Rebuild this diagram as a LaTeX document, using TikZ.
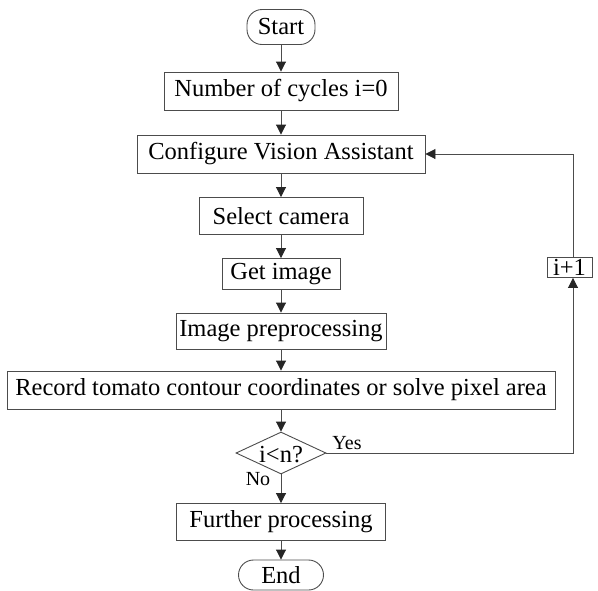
\documentclass[tikz,border=0pt]{standalone}
\usepackage{fontspec}
\setmainfont{Liberation Serif}
\usetikzlibrary{arrows.meta,shapes.geometric}
\begin{document}
\begin{tikzpicture}[x=1pt,y=-1pt,
  line/.style={draw=black!70,line width=0.9pt},
  arr/.style={line,-{Triangle[length=10pt,width=10pt,fill=black!85,color=black!85]}},
  txt/.style={font=\fontsize{24.5}{28}\selectfont},
  box/.style={line,rectangle,inner sep=0pt,txt},
  pill/.style={line,rectangle,rounded corners=15pt,inner sep=0pt,txt},
  lab/.style={inner sep=0pt,font=\fontsize{20}{23}\selectfont}]
\useasboundingbox (0,0) rectangle (598,590);
\node[pill,minimum width=68pt,minimum height=35pt] (start) at (281,27) {Start};
\node[box,minimum width=234pt,minimum height=38pt] (b1) at (281,91) {Number of cycles i=0};
\node[box,minimum width=288pt,minimum height=38pt] (b2) at (281,154) {Configure Vision Assistant};
\node[box,minimum width=164pt,minimum height=37pt] (b3) at (281,216) {Select camera};
\node[box,minimum width=118pt,minimum height=31pt] (b4) at (281,274) {Get image};
\node[box,minimum width=210pt,minimum height=36pt] (b5) at (281,331) {Image preprocessing};
\node[box,minimum width=548pt,minimum height=38pt] (b6) at (281,390) {Record tomato contour coordinates or solve pixel area};
\node[line,diamond,aspect=2.15,inner sep=0pt,minimum width=90pt,minimum height=42pt] (dia) at (281,453) {};
\node[inner sep=0pt,txt] (dtext) at (281,455) {i\textless n?};
\node[box,minimum width=209pt,minimum height=37pt] (b7) at (281,522) {Further processing};
\node[pill,minimum width=85pt,minimum height=30pt] (end) at (281,575) {End};
\node[box,minimum width=45pt,minimum height=20pt] (inc) at (569.5,267.5) {i+1};
\coordinate (c1) at (573,453);
\coordinate (c2) at (573,154);
\node[lab] (yes) at (347,443) {Yes};
\node[lab] (no) at (258,479) {No};
\draw[arr] (start) -- (b1);
\draw[arr] (b1) -- (b2);
\draw[arr] (b2) -- (b3);
\draw[arr] (b3) -- (b4);
\draw[arr] (b4) -- (b5);
\draw[arr] (b5) -- (b6);
\draw[arr] (b6) -- (dia);
\draw[arr] (dia) -- (b7);
\draw[arr] (b7) -- (end);
\draw[arr] (dia.east) -- (c1) -- (c1 |- inc.south);
\draw[arr] (c2 |- inc.north) -- (c2) -- (b2.east);
\end{tikzpicture}
\end{document}
